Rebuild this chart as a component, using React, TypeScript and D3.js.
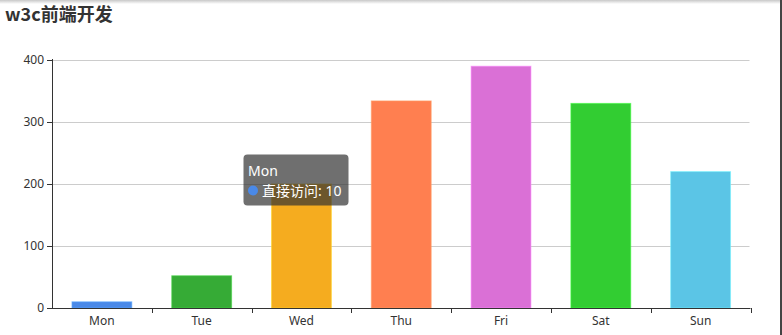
import React from "react";
import * as d3 from "d3";

const categories = ["Mon", "Tue", "Wed", "Thu", "Fri", "Sat", "Sun"];
const values = [10, 52, 200, 334, 390, 330, 220];
const colors = ["#4a89e8", "#36ab36", "#f5ac1f", "#ff7f50", "#da70d6", "#32cd32", "#5bc5e6"];
const yTicks = [0, 100, 200, 300, 400];
const title = "w3c前端开发";
const seriesName = "直接访问";

const W = 782, H = 335;
const left = 52, right = 750.5, top = 60, bottom = 308;
const font = "'Noto Sans', 'Noto Sans CJK SC', sans-serif";

export default function App() {
  const x = d3.scaleBand<string>().domain(categories).range([left, right]).paddingInner(0.4).paddingOuter(0.2);
  const xb = d3.scaleBand<string>().domain(categories).range([left, right]);
  const y = d3.scaleLinear().domain([0, 400]).range([bottom, top]);
  const tipIdx = 0;
  return (
    <svg width={W} height={H} style={{ position: "absolute", left: 0, top: 0, background: "#fff" }} fontFamily={font}>
      <defs>
        <linearGradient id="topShade" x1="0" y1="0" x2="0" y2="1">
          <stop offset="0" stopColor="#c8c8c8" />
          <stop offset="1" stopColor="#ffffff" />
        </linearGradient>
      </defs>
      <rect x={0} y={0} width={W} height={4} fill="url(#topShade)" />
      <rect x={780} y={0} width={2} height={H} fill="#444" />
      <text x={5} y={21} fontSize={18} fontWeight="bold" fill="#333" fontFamily="'Noto Sans CJK SC', sans-serif">{title}</text>
      {yTicks.map((t) => (
        <g key={t}>
          {t > 0 && <line x1={left} x2={right - 1} y1={Math.round(y(t)) + 0.5} y2={Math.round(y(t)) + 0.5} stroke="#ccc" />}
          <line x1={left - 5} x2={left} y1={Math.round(y(t)) + 0.5} y2={Math.round(y(t)) + 0.5} stroke="#333" />
          <text x={left - 8} y={y(t) + 4} fontSize={12} fill="#333" textAnchor="end">{t}</text>
        </g>
      ))}
      {categories.map((c, i) => (
        <rect key={c} x={x(c)!} y={y(values[i])} width={x.bandwidth()} height={bottom - y(values[i])}
          fill={colors[i]} stroke={d3.color(colors[i])!.brighter(0.6).formatHex()} strokeWidth={1} strokeOpacity={0.6} />
      ))}
      <line x1={left + 0.5} x2={left + 0.5} y1={top - 1} y2={bottom} stroke="#333" />
      <line x1={left} x2={right} y1={bottom + 0.5} y2={bottom + 0.5} stroke="#333" />
      {categories.map((c) => (
        <g key={c}>
          <line x1={Math.round(xb(c)! + xb.bandwidth()) + 0.5} x2={Math.round(xb(c)! + xb.bandwidth()) + 0.5} y1={bottom} y2={bottom + 5} stroke="#333" />
          <text x={xb(c)! + xb.bandwidth() / 2} y={325} fontSize={12} fill="#333" textAnchor="middle">{c}</text>
        </g>
      ))}
      <g>
        <rect x={243.5} y={154.5} width={105} height={51} rx={4} fill="rgba(50,50,50,0.7)" />
        <text x={248} y={176} fontSize={14} fill="#fff">{categories[tipIdx]}</text>
        <circle cx={253} cy={190.5} r={5} fill={colors[tipIdx]} />
        <text x={262} y={196} fontSize={14} fill="#fff">{`${seriesName}: ${values[tipIdx]}`}</text>
      </g>
    </svg>
  );
}
